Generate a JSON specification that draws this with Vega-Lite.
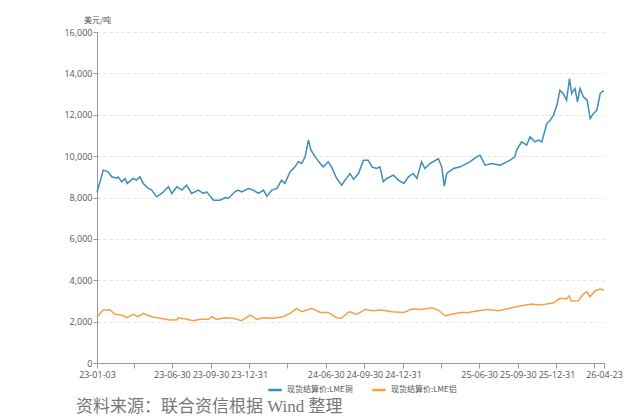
{
  "$schema": "https://vega.github.io/schema/vega-lite/v6.json",
  "autosize": "none",
  "width": 507,
  "height": 331,
  "padding": {"left": 97, "top": 32, "right": 20, "bottom": 54},
  "background": "white",
  "config": {
    "view": {"stroke": null},
    "font": "Noto Sans CJK SC"
  },
  "title": {
    "text": "资料来源：联合资信根据 Wind 整理",
    "orient": "bottom",
    "anchor": "start",
    "dx": 12,
    "offset": 4,
    "font": "Liberation Serif, Noto Sans CJK SC",
    "fontSize": 17,
    "fontWeight": "normal",
    "color": "#777777"
  },
  "datasets": {
    "cu": [
      {"d": "2023/01/03", "v": 8250}, {"d": "2023/01/18", "v": 9322}, {"d": "2023/01/29", "v": 9240}, {"d": "2023/02/07", "v": 9000},
      {"d": "2023/02/19", "v": 8935}, {"d": "2023/02/22", "v": 9000}, {"d": "2023/03/03", "v": 8757}, {"d": "2023/03/11", "v": 8920},
      {"d": "2023/03/16", "v": 8680}, {"d": "2023/03/30", "v": 8920}, {"d": "2023/04/07", "v": 8840}, {"d": "2023/04/15", "v": 9000},
      {"d": "2023/04/23", "v": 8680}, {"d": "2023/05/05", "v": 8437}, {"d": "2023/05/13", "v": 8356}, {"d": "2023/05/25", "v": 8032},
      {"d": "2023/06/06", "v": 8195}, {"d": "2023/06/22", "v": 8518}, {"d": "2023/06/30", "v": 8195}, {"d": "2023/07/12", "v": 8518},
      {"d": "2023/07/24", "v": 8356}, {"d": "2023/08/04", "v": 8597}, {"d": "2023/08/16", "v": 8195}, {"d": "2023/09/01", "v": 8356},
      {"d": "2023/09/13", "v": 8195}, {"d": "2023/09/21", "v": 8274}, {"d": "2023/10/07", "v": 7873}, {"d": "2023/10/23", "v": 7873},
      {"d": "2023/11/04", "v": 8000}, {"d": "2023/11/11", "v": 7955}, {"d": "2023/11/27", "v": 8274}, {"d": "2023/12/05", "v": 8356},
      {"d": "2023/12/13", "v": 8274}, {"d": "2023/12/29", "v": 8437}, {"d": "2024/01/10", "v": 8356}, {"d": "2024/01/22", "v": 8195},
      {"d": "2024/02/03", "v": 8356}, {"d": "2024/02/11", "v": 8066}, {"d": "2024/02/23", "v": 8356}, {"d": "2024/03/06", "v": 8437},
      {"d": "2024/03/17", "v": 8840}, {"d": "2024/03/25", "v": 8680}, {"d": "2024/04/06", "v": 9240}, {"d": "2024/04/18", "v": 9482},
      {"d": "2024/04/26", "v": 9724}, {"d": "2024/05/04", "v": 9644}, {"d": "2024/05/12", "v": 9966}, {"d": "2024/05/20", "v": 10771},
      {"d": "2024/05/26", "v": 10288}, {"d": "2024/06/05", "v": 9966}, {"d": "2024/06/17", "v": 9644}, {"d": "2024/06/24", "v": 9482},
      {"d": "2024/07/06", "v": 9724}, {"d": "2024/07/14", "v": 9482}, {"d": "2024/07/26", "v": 8920}, {"d": "2024/08/07", "v": 8597},
      {"d": "2024/08/15", "v": 8840}, {"d": "2024/08/27", "v": 9160}, {"d": "2024/09/04", "v": 8880}, {"d": "2024/09/16", "v": 9160},
      {"d": "2024/09/28", "v": 9805}, {"d": "2024/10/09", "v": 9805}, {"d": "2024/10/18", "v": 9482}, {"d": "2024/10/29", "v": 9402},
      {"d": "2024/11/06", "v": 9482}, {"d": "2024/11/14", "v": 8757}, {"d": "2024/11/22", "v": 8920}, {"d": "2024/12/08", "v": 9080},
      {"d": "2024/12/20", "v": 8840}, {"d": "2025/01/02", "v": 8680}, {"d": "2025/01/13", "v": 9000}, {"d": "2025/01/24", "v": 9160},
      {"d": "2025/02/02", "v": 8920}, {"d": "2025/02/13", "v": 9724}, {"d": "2025/02/21", "v": 9402}, {"d": "2025/03/05", "v": 9644},
      {"d": "2025/03/25", "v": 9885}, {"d": "2025/04/02", "v": 9482}, {"d": "2025/04/08", "v": 8549}, {"d": "2025/04/14", "v": 9160},
      {"d": "2025/04/30", "v": 9402}, {"d": "2025/05/16", "v": 9482}, {"d": "2025/06/08", "v": 9724}, {"d": "2025/06/24", "v": 9966},
      {"d": "2025/07/02", "v": 10046}, {"d": "2025/07/14", "v": 9563}, {"d": "2025/07/30", "v": 9644}, {"d": "2025/08/19", "v": 9563},
      {"d": "2025/09/12", "v": 9805}, {"d": "2025/09/23", "v": 9966}, {"d": "2025/09/27", "v": 10288}, {"d": "2025/10/09", "v": 10690},
      {"d": "2025/10/21", "v": 10529}, {"d": "2025/10/29", "v": 10932}, {"d": "2025/11/10", "v": 10690}, {"d": "2025/11/18", "v": 10771},
      {"d": "2025/11/26", "v": 10690}, {"d": "2025/12/08", "v": 11573}, {"d": "2025/12/16", "v": 11734}, {"d": "2025/12/24", "v": 11976},
      {"d": "2026/01/02", "v": 12540}, {"d": "2026/01/08", "v": 13186}, {"d": "2026/01/16", "v": 13025}, {"d": "2026/01/24", "v": 12701},
      {"d": "2026/01/31", "v": 13751}, {"d": "2026/02/05", "v": 13025}, {"d": "2026/02/13", "v": 13268}, {"d": "2026/02/19", "v": 12620},
      {"d": "2026/02/25", "v": 13268}, {"d": "2026/03/05", "v": 12862}, {"d": "2026/03/14", "v": 12701}, {"d": "2026/03/21", "v": 11815},
      {"d": "2026/03/29", "v": 12056}, {"d": "2026/04/06", "v": 12218}, {"d": "2026/04/14", "v": 13025}, {"d": "2026/04/20", "v": 13138},
      {"d": "2026/04/23", "v": 13138}
    ],
    "al": [
      {"d": "2023/01/03", "v": 2236}, {"d": "2023/01/18", "v": 2560}, {"d": "2023/02/03", "v": 2560}, {"d": "2023/02/15", "v": 2352},
      {"d": "2023/03/03", "v": 2318}, {"d": "2023/03/15", "v": 2188}, {"d": "2023/03/30", "v": 2352}, {"d": "2023/04/11", "v": 2236},
      {"d": "2023/04/23", "v": 2396}, {"d": "2023/05/13", "v": 2236}, {"d": "2023/06/02", "v": 2159}, {"d": "2023/06/25", "v": 2077},
      {"d": "2023/07/12", "v": 2077}, {"d": "2023/07/15", "v": 2188}, {"d": "2023/08/04", "v": 2110}, {"d": "2023/08/20", "v": 2043},
      {"d": "2023/09/05", "v": 2110}, {"d": "2023/09/25", "v": 2110}, {"d": "2023/10/03", "v": 2236}, {"d": "2023/10/15", "v": 2110},
      {"d": "2023/11/04", "v": 2188}, {"d": "2023/11/23", "v": 2159}, {"d": "2023/12/13", "v": 2043}, {"d": "2024/01/02", "v": 2318},
      {"d": "2024/01/18", "v": 2110}, {"d": "2024/02/03", "v": 2188}, {"d": "2024/02/26", "v": 2159}, {"d": "2024/03/21", "v": 2236},
      {"d": "2024/04/06", "v": 2396}, {"d": "2024/04/22", "v": 2640}, {"d": "2024/05/04", "v": 2478}, {"d": "2024/05/28", "v": 2640},
      {"d": "2024/06/17", "v": 2444}, {"d": "2024/07/06", "v": 2444}, {"d": "2024/07/26", "v": 2188}, {"d": "2024/08/07", "v": 2159},
      {"d": "2024/08/15", "v": 2318}, {"d": "2024/08/23", "v": 2444}, {"d": "2024/08/27", "v": 2478}, {"d": "2024/09/12", "v": 2352},
      {"d": "2024/10/02", "v": 2589}, {"d": "2024/10/21", "v": 2526}, {"d": "2024/11/10", "v": 2560}, {"d": "2024/12/04", "v": 2478},
      {"d": "2025/01/02", "v": 2444}, {"d": "2025/01/21", "v": 2608}, {"d": "2025/02/13", "v": 2589}, {"d": "2025/03/09", "v": 2671},
      {"d": "2025/03/25", "v": 2560}, {"d": "2025/04/10", "v": 2285}, {"d": "2025/04/26", "v": 2352}, {"d": "2025/05/16", "v": 2444},
      {"d": "2025/06/04", "v": 2444}, {"d": "2025/06/28", "v": 2526}, {"d": "2025/07/22", "v": 2589}, {"d": "2025/08/15", "v": 2526},
      {"d": "2025/09/16", "v": 2671}, {"d": "2025/10/09", "v": 2768}, {"d": "2025/11/02", "v": 2850}, {"d": "2025/11/18", "v": 2801},
      {"d": "2025/12/04", "v": 2835}, {"d": "2025/12/24", "v": 2912}, {"d": "2026/01/08", "v": 3125}, {"d": "2026/01/24", "v": 3091},
      {"d": "2026/01/30", "v": 3251}, {"d": "2026/02/04", "v": 2995}, {"d": "2026/02/21", "v": 3009}, {"d": "2026/03/05", "v": 3333},
      {"d": "2026/03/13", "v": 3444}, {"d": "2026/03/21", "v": 3203}, {"d": "2026/04/02", "v": 3492}, {"d": "2026/04/14", "v": 3574},
      {"d": "2026/04/23", "v": 3526}
    ]
  },
  "layer": [
    {
      "data": {"name": "cu"},
      "transform": [{"calculate": "'现货结算价:LME铜'", "as": "s"}],
      "mark": {"type": "line", "strokeWidth": 1.5},
      "encoding": {
        "x": {"field": "d", "type": "temporal"},
        "y": {"field": "v", "type": "quantitative"},
        "color": {"field": "s", "type": "nominal"}
      }
    },
    {
      "data": {"name": "al"},
      "transform": [{"calculate": "'现货结算价:LME铝'", "as": "s"}],
      "mark": {"type": "line", "strokeWidth": 1.5},
      "encoding": {
        "x": {"field": "d", "type": "temporal"},
        "y": {"field": "v", "type": "quantitative"},
        "color": {"field": "s", "type": "nominal"}
      }
    }
  ],
  "encoding": {
    "x": {
      "field": "d",
      "type": "temporal",
      "scale": {"domain": [{"year": 2023, "month": 1, "date": 3}, {"year": 2026, "month": 4, "date": 23}]},
      "axis": {
        "title": null,
        "grid": false,
        "values": [
          {"year": 2023, "month": 1, "date": 3}, {"year": 2023, "month": 3, "date": 31}, {"year": 2023, "month": 6, "date": 30},
          {"year": 2023, "month": 9, "date": 30}, {"year": 2023, "month": 12, "date": 31}, {"year": 2024, "month": 3, "date": 31},
          {"year": 2024, "month": 6, "date": 30}, {"year": 2024, "month": 9, "date": 30}, {"year": 2024, "month": 12, "date": 31},
          {"year": 2025, "month": 3, "date": 31}, {"year": 2025, "month": 6, "date": 30}, {"year": 2025, "month": 9, "date": 30},
          {"year": 2025, "month": 12, "date": 31}, {"year": 2026, "month": 3, "date": 31}, {"year": 2026, "month": 4, "date": 23}
        ],
        "labelExpr": "month(datum.value) == 2 ? '' : timeFormat(datum.value, '%y-%m-%d')",
        "labelOverlap": false,
        "labelFont": "Open Sans",
        "labelFontSize": 9,
        "labelColor": "#555555",
        "labelPadding": 2,
        "domainColor": "#999999",
        "tickColor": "#999999",
        "tickSize": 5,
        "labelFlush": false
      }
    },
    "y": {
      "field": "v",
      "type": "quantitative",
      "scale": {"domain": [0, 16000], "nice": false},
      "axis": {
        "title": "美元/吨",
        "titleAngle": 0,
        "titleX": 0,
        "titleY": -8,
        "titleAlign": "center",
        "titleBaseline": "bottom",
        "titleFont": "Noto Sans CJK SC",
        "titleFontSize": 8,
        "titleFontWeight": "normal",
        "titleColor": "#555555",
        "values": [0, 2000, 4000, 6000, 8000, 10000, 12000, 14000, 16000],
        "format": ",.0f",
        "labelFont": "Open Sans",
        "labelFontSize": 9,
        "labelColor": "#555555",
        "labelPadding": 1,
        "domainColor": "#999999",
        "tickColor": "#999999",
        "tickSize": 4,
        "gridColor": "#e3e3e3",
        "gridDash": [3, 3]
      }
    },
    "color": {
      "field": "s",
      "type": "nominal",
      "scale": {"domain": ["现货结算价:LME铜", "现货结算价:LME铝"], "range": ["#3c8dbc", "#f7a045"]},
      "legend": {
        "title": null,
        "orient": "none",
        "legendX": 170,
        "legendY": 350,
        "direction": "horizontal",
        "symbolType": "stroke",
        "symbolStrokeWidth": 2.5,
        "symbolSize": 180,
        "labelFont": "Noto Sans CJK SC",
        "labelFontSize": 8,
        "labelColor": "#555555",
        "columnPadding": 14
      }
    }
  }
}
